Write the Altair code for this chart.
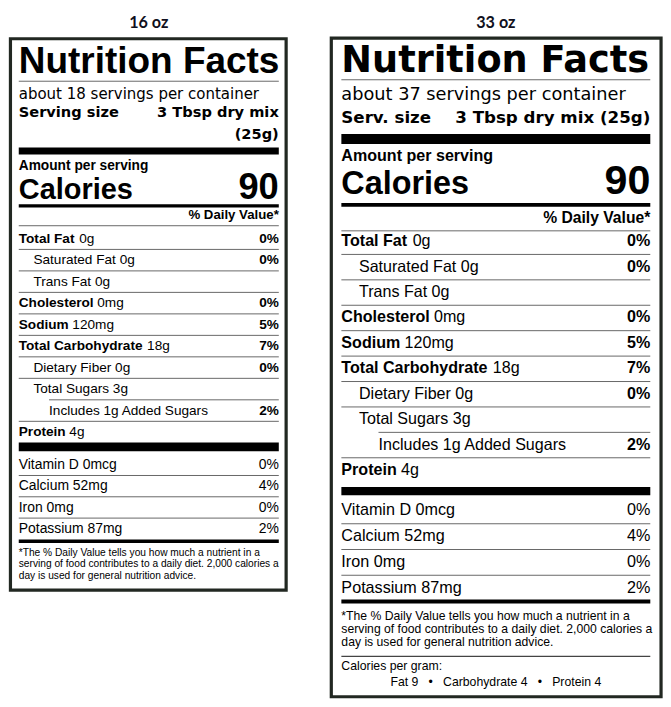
import altair as alt
import pandas as pd

# ---------------- data ----------------
package_sizes = ["16 oz", "33 oz"]
servings_text = ["about 18 servings per container", "about 37 servings per container"]
serving_size_label = ["Serving size", "Serv. size"]
serving_size_value = ["3 Tbsp dry mix", "(25g)"]
calories = 90
nutrients = ["Total Fat", "Saturated Fat", "Trans Fat", "Cholesterol", "Sodium",
             "Total Carbohydrate", "Dietary Fiber", "Total Sugars",
             "Includes 1g Added Sugars", "Protein"]
nutrient_amounts = ["0g", "0g", "0g", "0mg", "120mg", "18g", "0g", "3g", "", "4g"]
nutrient_dv = ["0%", "0%", "", "0%", "5%", "7%", "0%", "", "2%", ""]
nutrient_indent = [0, 1, 1, 0, 0, 0, 1, 1, 2, 0]
nutrient_bold = [True, False, False, True, True, True, False, False, False, True]
vitamins = ["Vitamin D", "Calcium", "Iron", "Potassium"]
vitamin_amounts = ["0mcg", "52mg", "0mg", "87mg"]
vitamin_dv = ["0%", "4%", "0%", "2%"]
footnote = ["*The % Daily Value tells you how much a nutrient in a",
            "serving of food contributes to a daily diet. 2,000 calories a",
            "day is used for general nutrition advice."]
cal_per_gram_title = "Calories per gram:"
cal_per_gram = ["Fat 9", "Carbohydrate 4", "Protein 4"]

# ---------------- layout (reference pixel space) ----------------
W, H = 655, 692
X0, X1 = 1.0, 671.0
Y0, Y1 = 1.0, 705.0
SX = W / (X1 - X0)
SY = H / (Y1 - Y0)
FS = (SX + SY) / 2
THIN = "#666666"

BOLD_W = {' ': 278, 'C': 722, 'F': 611, 'P': 667, 'S': 667, 'T': 611, 'a': 556, 'b': 611,
          'd': 611, 'e': 556, 'h': 611, 'i': 278, 'l': 278, 'm': 889, 'n': 611, 'o': 611,
          'r': 389, 's': 556, 't': 333, 'u': 611, 'y': 556}


def bold_width(s, size):
    return sum(BOLD_W.get(c, 556) for c in s) / 1000.0 * size


layouts = [
    dict(cx=145, head_y=21, head_size=16.5, x0=12, x1=278, ind=[0, 15, 31],
         box=(3.5, 32.3, 285.5, 593.3),
         title_y=67, title_size=37.7, title_style="lib_b_l", rule1=75.5,
         serv_y=94, serv_size=15.3, ss_y=112, ss_size=14.9, ss_wrap=True, ss2_y=134,
         bar1=(143, 150), amt_y=166, amt_size=14, cal_y=195, cal_size=29.5, cal_num_size=37,
         rule2=(202.3, 3.5), dv_y=216, dv_size=13.5, rule3=222.5,
         row_y0=240, row_pitch=21.86, row_rule_off=6.6, row_size=13.9,
         bar2=(443, 452), vit_y0=470, vit_pitch=21.67, vit_size=14.2,
         bar3=(541.7, 545.2), foot_y0=558.5, foot_pitch=11.6, foot_size=10.4,
         cpg=False),
    dict(cx=500, head_y=21.7, head_size=16.5, x0=342, x1=658, ind=[0, 18, 38],
         box=(331.7, 31.7, 669, 701.7),
         title_y=65.7, title_size=37.4, title_style="dv_b_l", rule1=74,
         serv_y=95, serv_size=18.1, ss_y=118.3, ss_size=17, ss_wrap=False, ss2_y=None,
         bar1=(129.3, 139.3), amt_y=156.7, amt_size=16.4, cal_y=190, cal_size=33, cal_num_size=42,
         rule2=(201.3, 4), dv_y=220, dv_size=16, rule3=227.7,
         row_y0=243.3, row_pitch=25.86, row_rule_off=8.4, row_size=16.4,
         bar2=(488.3, 496.7), vit_y0=517.3, vit_pitch=26.2, vit_size=16.5,
         bar3=(602.7, 606.7), foot_y0=623.5, foot_pitch=13.4, foot_size=12.45,
         cpg=True, cpg_rule=660.7, cpg_y=674, cpg2_y=690.7, cpg_size=12.5),
]

texts, rules, boxes = [], [], []


def T(x, y, text, size, style):
    texts.append(dict(x=x, y=y, text=text, size=size * FS, style=style))


def R(x, x2, y, w, color="#000000"):
    rules.append(dict(x=x, x2=x2, y=y, sw=w * SY, c=color))


def BAR(x, x2, top, bottom):
    R(x, x2, (top + bottom) / 2.0, bottom - top)


for k, L in enumerate(layouts):
    x0, x1 = L["x0"], L["x1"]
    bx = L["box"]
    boxes.append(dict(x=bx[0], x2=bx[2], y=bx[1], y2=bx[3]))
    T(L["cx"], L["head_y"], package_sizes[k], L["head_size"], "head")
    T(x0, L["title_y"], "Nutrition Facts", L["title_size"], L["title_style"])
    R(x0, x1, L["rule1"], 1, THIN)
    T(x0, L["serv_y"], servings_text[k], L["serv_size"], "dv_r_l")
    T(x0, L["ss_y"], serving_size_label[k], L["ss_size"], "dv_b_l")
    if L["ss_wrap"]:
        T(x1, L["ss_y"], serving_size_value[0], L["ss_size"], "dv_b_r")
        T(x1, L["ss2_y"], serving_size_value[1], L["ss_size"], "dv_b_r")
    else:
        T(x1, L["ss_y"], " ".join(serving_size_value), L["ss_size"], "dv_b_r")
    BAR(x0, x1, *L["bar1"])
    T(x0, L["amt_y"], "Amount per serving", L["amt_size"], "lib_b_l")
    T(x0, L["cal_y"], "Calories", L["cal_size"], "lib_b_l")
    T(x1, L["cal_y"], str(calories), L["cal_num_size"], "lib_b_r")
    R(x0, x1, L["rule2"][0], L["rule2"][1])
    T(x1, L["dv_y"], "% Daily Value*", L["dv_size"], "lib_b_r")
    R(x0, x1, L["rule3"], 1, THIN)

    for i, name in enumerate(nutrients):
        y = L["row_y0"] + i * L["row_pitch"]
        xi = x0 + L["ind"][nutrient_indent[i]]
        amt = nutrient_amounts[i]
        sz = L["row_size"]
        if nutrient_bold[i]:
            T(xi, y, name, sz, "lib_b_l")
            if amt:
                T(xi + bold_width(name + " ", sz), y, amt, sz, "lib_r_l")
        else:
            T(xi, y, (name + " " + amt).strip(), sz, "lib_r_l")
        if nutrient_dv[i]:
            T(x1, y, nutrient_dv[i], sz, "lib_b_r")
        if i < len(nutrients) - 1:
            nxt = nutrient_indent[i + 1]
            rx = x0 + (L["ind"][2] if nxt == 2 else 0)
            R(rx, x1, y + L["row_rule_off"], 1, THIN)
    BAR(x0, x1, *L["bar2"])

    for i, v in enumerate(vitamins):
        y = L["vit_y0"] + i * L["vit_pitch"]
        T(x0, y, v + " " + vitamin_amounts[i], L["vit_size"], "lib_r_l")
        T(x1, y, vitamin_dv[i], L["vit_size"], "lib_r_r")
        if i < len(vitamins) - 1:
            R(x0, x1, y + L["row_rule_off"], 1, THIN)
    BAR(x0, x1, *L["bar3"])

    for i, line in enumerate(footnote):
        T(x0, L["foot_y0"] + i * L["foot_pitch"], line, L["foot_size"], "lib_r_l")

    if L["cpg"]:
        R(x0, x1, L["cpg_rule"], 1.3, "#444444")
        T(x0, L["cpg_y"], cal_per_gram_title, L["cpg_size"], "lib_r_l")
        sep = "\u00a0\u00a0\u00a0\u2022\u00a0\u00a0\u00a0"
        T((x0 + x1) / 2.0, L["cpg2_y"], sep.join(cal_per_gram), L["cpg_size"], "lib_r_c")

text_df = pd.DataFrame(texts)
rule_df = pd.DataFrame(rules)
box_df = pd.DataFrame(boxes)

xs = alt.Scale(domain=[X0, X1], nice=False, zero=False)
ys = alt.Scale(domain=[Y0, Y1], nice=False, zero=False, reverse=True)

border = alt.Chart(box_df).mark_rect(fill="white", fillOpacity=0, stroke="#222822", strokeWidth=3.2).encode(
    x=alt.X("x:Q", scale=xs, axis=None), x2="x2:Q",
    y=alt.Y("y:Q", scale=ys, axis=None), y2="y2:Q")

rule_layer = alt.Chart(rule_df).mark_rule().encode(
    x=alt.X("x:Q", scale=xs, axis=None), x2="x2:Q",
    y=alt.Y("y:Q", scale=ys, axis=None),
    strokeWidth=alt.StrokeWidth("sw:Q", scale=None, legend=None),
    color=alt.Color("c:N", scale=None, legend=None))

styles = {
    "head": dict(font="Lato", fontWeight="bold", align="center", color="#101020"),
    "lib_b_l": dict(font="Liberation Sans", fontWeight="bold", align="left", color="black"),
    "lib_b_r": dict(font="Liberation Sans", fontWeight="bold", align="right", color="black"),
    "lib_r_l": dict(font="Liberation Sans", fontWeight="normal", align="left", color="black"),
    "lib_r_r": dict(font="Liberation Sans", fontWeight="normal", align="right", color="black"),
    "lib_r_c": dict(font="Liberation Sans", fontWeight="normal", align="center", color="black"),
    "dv_b_l": dict(font="DejaVu Sans", fontWeight="bold", align="left", color="black"),
    "dv_b_r": dict(font="DejaVu Sans", fontWeight="bold", align="right", color="black"),
    "dv_r_l": dict(font="DejaVu Sans", fontWeight="normal", align="left", color="black"),
}

text_layers = []
for key, st in styles.items():
    sub = text_df[text_df["style"] == key]
    if len(sub) == 0:
        continue
    text_layers.append(
        alt.Chart(sub).mark_text(baseline="alphabetic", **st).encode(
            x=alt.X("x:Q", scale=xs, axis=None),
            y=alt.Y("y:Q", scale=ys, axis=None),
            text="text:N",
            size=alt.Size("size:Q", scale=None, legend=None))
    )

chart = alt.layer(border, rule_layer, *text_layers).properties(
    width=W, height=H, padding=0,
    autosize=alt.AutoSizeParams(type="none"),
    background="white",
).configure_view(strokeWidth=0)

chart.save("out.html", embed_options={"renderer": "svg", "actions": False})
